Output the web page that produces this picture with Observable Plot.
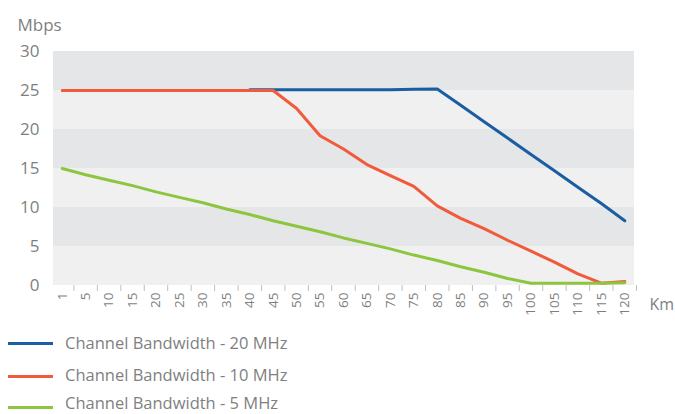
<!DOCTYPE html>
<html>
<head>
<meta charset="utf-8">
<script src="https://cdn.jsdelivr.net/npm/d3@7"></script>
<script src="https://cdn.jsdelivr.net/npm/@observablehq/plot@0.6"></script>
<style>
  html, body { margin: 0; padding: 0; background: #ffffff; }
  #wrap { position: relative; width: 675px; height: 414px; overflow: hidden; font-family: "Open Sans", sans-serif; }
  #chart { position: absolute; left: 0; top: 0; }
  .sw { position: absolute; left: 8px; width: 45px; height: 3px; }
  .lt { position: absolute; left: 65px; white-space: nowrap; color: #7f7f7f; font-size: 16.5px; line-height: 16.5px; height: 16.5px; }
</style>
</head>
<body>
<div id="wrap">
  <div id="chart"></div>
  <div id="legend"></div>
</div>
<script>
// ---- data ----
const xLabels = ["1","5","10","15","20","25","30","35","40","45","50","55","60","65","70","75","80","85","90","95","100","105","110","115","120"];
const yTicks = [0, 5, 10, 15, 20, 25, 30];
const seriesNames = ["Channel Bandwidth - 20 MHz", "Channel Bandwidth - 10 MHz", "Channel Bandwidth - 5 MHz"];
const bw20 = [null,null,null,null,null,null,null,null,25.1,25.1,25.1,25.1,25.1,25.1,25.1,25.15,25.2,23.1,21.0,18.9,16.8,14.7,12.6,10.5,8.3];
const bw10 = [25,25,25,25,25,25,25,25,25,25,22.7,19.2,17.5,15.5,14.1,12.7,10.2,8.6,7.3,5.8,4.4,3.0,1.5,0.3,0.5];
const bw5  = [15.0,14.2,13.5,12.8,12.0,11.3,10.6,9.8,9.1,8.3,7.6,6.9,6.1,5.4,4.7,3.9,3.2,2.4,1.7,0.9,0.3,0.3,0.3,0.3,0.35];
const colors = ["#1a5da2", "#f15a3a", "#8cc63f"];
const bandFills = ["#f0f0f0", "#e5e6e8"];

// ---- build tables ----
const series = [bw20, bw10, bw5];
const points = [];
series.forEach((vals, s) => vals.forEach((v, i) => points.push({s, i, v})));
const bands = yTicks.slice(0, -1).map((y, k) => ({y1: y, y2: yTicks[k + 1], fill: bandFills[k % 2]}));
const idx = xLabels.map((d, i) => i);

const gray = "#7f7f7f";

const plot = Plot.plot({
  width: 675,
  height: 330,
  marginLeft: 50,
  marginRight: 39,
  marginTop: 51,
  marginBottom: 45,
  style: {fontFamily: "'Open Sans', sans-serif", fontSize: "17px", color: gray, background: "transparent", overflow: "visible"},
  x: {type: "linear", domain: [-0.5, xLabels.length - 0.5], axis: null},
  y: {domain: [0, 30], axis: null},
  marks: [
    Plot.rect(bands, {y1: "y1", y2: "y2", fill: "fill", insetLeft: 3, insetRight: 2}),
    Plot.axisY({ticks: yTicks, tickSize: 0, tickPadding: 11, fontSize: 17, label: null, color: gray}),
    Plot.axisX({ticks: idx, tickFormat: i => xLabels[i], tickSize: 0, tickPadding: 7, tickRotate: -90, fontSize: 13.5, label: null, color: gray}),
    Plot.axisX({ticks: idx.map(i => i + 0.5), tickFormat: () => "", tickSize: 6, label: null, stroke: "#bfbfbf"}),
    ...[0, 1, 2].map(s => Plot.line(points.filter(d => d.s === s && d.v != null), {x: "i", y: "v", stroke: colors[s], strokeWidth: 3, strokeLinejoin: "round"})),
    Plot.text(["Mbps"], {frameAnchor: "top-left", text: d => d, textAnchor: "start", dx: -33, dy: -33, fill: gray, fontSize: 17}),
    Plot.text(["Km"], {frameAnchor: "bottom-right", text: d => d, textAnchor: "start", dx: 13, dy: 24, fill: gray, fontSize: 16})
  ]
});
document.getElementById("chart").appendChild(plot);

// ---- legend ----
const legend = document.getElementById("legend");
const swatchY = [343, 376, 407];
const textTop = [334.6, 367, 394.5];
seriesNames.forEach((name, s) => {
  const sw = document.createElement("div");
  sw.className = "sw";
  sw.style.top = (swatchY[s] - 1.5) + "px";
  sw.style.background = colors[s];
  legend.appendChild(sw);
  const t = document.createElement("div");
  t.className = "lt";
  t.style.top = textTop[s] + "px";
  t.textContent = name;
  legend.appendChild(t);
});
</script>
</body>
</html>
